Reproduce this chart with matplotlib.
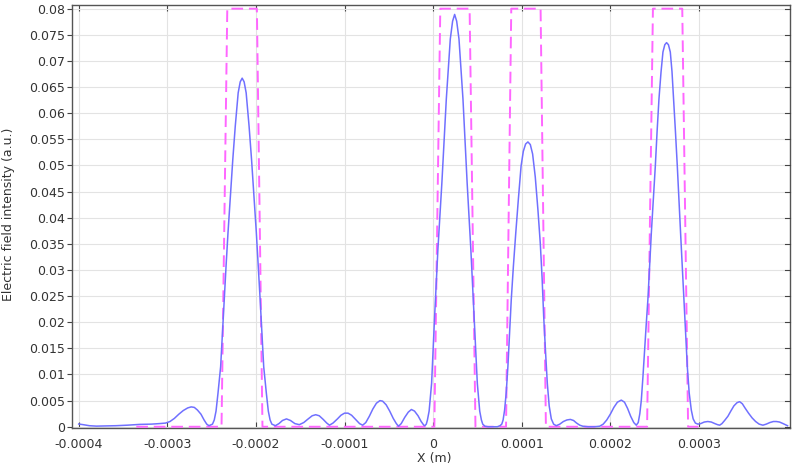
import numpy as np
import matplotlib
matplotlib.use("Agg")
import matplotlib.pyplot as plt

# Electric field intensity (blue): (x in micrometres, intensity in a.u.)
field_points = [
    (-400, 0.00052), (-395, 0.0004), (-388, 0.0002), (-380, 0.00012), (-370, 0.00015), (-358, 0.0002),
    (-345, 0.0003), (-331, 0.00045), (-318, 0.0005), (-309, 0.0006), (-302, 0.0007), (-297, 0.0010),
    (-292, 0.0016), (-287, 0.0024), (-282, 0.0031), (-277, 0.0036), (-273, 0.0038), (-269.5, 0.0037),
    (-266, 0.0032), (-262, 0.0024), (-258.5, 0.0013), (-255.5, 0.0005), (-253, 0.0002),
    # peak 1
    (-249, 0.0005), (-247, 0.0013), (-245, 0.0030), (-242.8, 0.0064), (-239.8, 0.0115),
    (-237.8, 0.0179), (-235.8, 0.0243), (-233.7, 0.0307), (-231.5, 0.0371), (-229.0, 0.0435),
    (-226.1, 0.0511), (-223.3, 0.0575), (-220.0, 0.0639), (-217.7, 0.0660), (-215.5, 0.0667),
    (-213.3, 0.0660), (-211.0, 0.0639), (-207.7, 0.0575), (-204.9, 0.0511), (-202.0, 0.0435),
    (-199.5, 0.0371), (-197.3, 0.0307), (-195.2, 0.0243), (-193.2, 0.0179), (-191.2, 0.0115),
    (-188.2, 0.0064), (-186, 0.0030), (-184, 0.0013), (-182, 0.0005), (-178, 0.0002),
    # side lobes
    (-174, 0.0006), (-170, 0.0012), (-165.5, 0.0015), (-161, 0.0012), (-156, 0.0006), (-151, 0.0004),
    (-146, 0.0008), (-141, 0.0015), (-136.5, 0.0021), (-132.5, 0.0023), (-128.5, 0.0021),
    (-124, 0.0014), (-120, 0.0007), (-117, 0.0003), (-113, 0.0007), (-108, 0.0015), (-104, 0.0022),
    (-100, 0.0026), (-96, 0.0026), (-92, 0.0022), (-87, 0.0013), (-83, 0.0006), (-79.5, 0.0003),
    (-76, 0.0008), (-72, 0.0020), (-68, 0.0034), (-64, 0.0045), (-60, 0.0050), (-57, 0.0049),
    (-53, 0.0042), (-49, 0.0030), (-45, 0.0016), (-41.5, 0.0006), (-39, 0.0001), (-36, 0.0006),
    (-32, 0.0018), (-28, 0.0028), (-24.5, 0.0033), (-21, 0.0030), (-17, 0.0021), (-13.5, 0.0010),
    (-10.5, 0.0003), (-9.3, 0.0002),
    # peak 2
    (-7.7, 0.0005), (-6.4, 0.0013), (-4.5, 0.0030), (-1.7, 0.0083), (1.7, 0.0211), (5.4, 0.0339),
    (9.9, 0.0467), (14.9, 0.0627), (19.4, 0.0742), (22.0, 0.0776), (24.3, 0.0789), (26.6, 0.0776),
    (29.2, 0.0742), (33.7, 0.0627), (38.4, 0.0467), (42.6, 0.0339), (46.3, 0.0211), (49.9, 0.0083),
    (52.6, 0.0030), (54.5, 0.0013), (56, 0.0005), (58.5, 0.0001), (62, 0.0), (67.5, 0.0),
    (72.5, 0.0), (75.5, 0.0002),
    # peak 3
    (77.5, 0.0005), (79, 0.0013), (80.7, 0.0032), (82.5, 0.0065), (84.4, 0.0115), (86.2, 0.0175),
    (88.2, 0.0243), (90.6, 0.0307), (93.3, 0.0371), (96.2, 0.0435), (99.3, 0.0499), (101.8, 0.0527),
    (104.4, 0.0541), (107, 0.0545), (109.7, 0.0540), (112.3, 0.0522), (115.3, 0.0478), (118.3, 0.0415),
    (121, 0.0350), (123, 0.0285), (124.8, 0.0211), (127, 0.0140), (128.9, 0.0083), (131, 0.0040),
    (133.4, 0.0015), (136, 0.0005), (139, 0.0002),
    # side lobes
    (143, 0.0005), (147, 0.0010), (151, 0.0013), (154.9, 0.0014), (158.5, 0.0012), (162, 0.0007),
    (165.5, 0.0003), (169, 0.0001), (175, 0.0), (182, 0.0), (188, 0.0001), (192, 0.0005),
    (196, 0.0013), (200, 0.0024), (204, 0.0037), (208, 0.0047), (212.4, 0.0051), (216, 0.0047),
    (219.5, 0.0035), (223, 0.0020), (226.5, 0.0008), (229.3, 0.0003),
    # peak 4
    (231.5, 0.0008), (233.3, 0.0025), (235, 0.0051), (236.8, 0.0095), (238.7, 0.0147),
    (240.5, 0.0195), (242.4, 0.0243), (244.3, 0.0305), (246.3, 0.0371), (248.5, 0.0435),
    (250.8, 0.0499), (252.8, 0.0565), (254.9, 0.0627), (257.2, 0.0678), (259.4, 0.0717),
    (261.5, 0.0731), (263.5, 0.0735), (265.6, 0.0731), (267.7, 0.0717), (269.6, 0.0680),
    (271.4, 0.0627), (273.5, 0.0565), (275.6, 0.0499), (277.5, 0.0435), (279.3, 0.0371),
    (281.2, 0.0305), (283.1, 0.0243), (285, 0.0180), (286.9, 0.0115), (289, 0.0065),
    (291.4, 0.0032), (293.5, 0.0015), (296, 0.0007), (298.9, 0.0005),
    # tail
    (302, 0.0006), (306, 0.0009), (310, 0.0010), (314, 0.0009), (318, 0.0006), (321, 0.0004),
    (323.4, 0.0003), (326, 0.0006), (329, 0.0012), (332.7, 0.0020), (336, 0.0030), (339.5, 0.0040),
    (343, 0.0046), (345.9, 0.0048), (349, 0.0044), (352, 0.0036), (356, 0.0026), (360, 0.0017),
    (364, 0.0010), (368, 0.0005), (372.2, 0.0003), (376, 0.0005), (380, 0.0008), (384, 0.0010),
    (387.4, 0.0010), (391, 0.0009), (395, 0.0006), (400, 0.0002),
]

# Refractive-index profile (magenta dashed), x in micrometres
profile_x_um = [-335, -238.8, -232.3, -198.9, -192.6, 1.4, 8.1, 41.2, 47.8, 82.3, 88.2, 121.3, 127.3,
                241.5, 248.1, 281.2, 287.8, 303]
profile_y = [0, 0, 0.08, 0.08, 0, 0, 0.08, 0.08, 0, 0, 0.08, 0.08, 0, 0, 0.08, 0.08, 0, 0]

x_ticks = [-0.0004, -0.0003, -0.0002, -0.0001, 0, 0.0001, 0.0002, 0.0003]
x_tick_labels = ["-0.0004", "-0.0003", "-0.0002", "-0.0001", "0", "0.0001", "0.0002", "0.0003"]
y_ticks = [0, 0.005, 0.01, 0.015, 0.02, 0.025, 0.03, 0.035, 0.04, 0.045, 0.05, 0.055, 0.06, 0.065,
           0.07, 0.075, 0.08]
y_tick_labels = ["0", "0.005", "0.01", "0.015", "0.02", "0.025", "0.03", "0.035", "0.04", "0.045",
                 "0.05", "0.055", "0.06", "0.065", "0.07", "0.075", "0.08"]

field_x_um = [p[0] for p in field_points]
field_y = [p[1] for p in field_points]

plt.rcParams['font.family'] = ['DejaVu Sans']
fig = plt.figure(figsize=(8.0, 4.68), dpi=100)
ax = fig.add_axes([0.0904, 0.0848, 0.8971, 0.9045])

ax.plot(np.array(profile_x_um) * 1e-6, profile_y, color='#ff66ff', lw=1.4,
        dashes=(6, 3), solid_joinstyle='round', dash_joinstyle='round', zorder=3)
ax.plot(np.array(field_x_um) * 1e-6, field_y, color='#7070ff', lw=1.1, zorder=4,
        solid_joinstyle='round')

ax.set_xlim(-4.072e-4, 4.028e-4)
ax.set_ylim(-0.0003, 0.0807)
ax.set_xticks(x_ticks)
ax.set_xticklabels(x_tick_labels)
ax.set_yticks(y_ticks)
ax.set_yticklabels(y_tick_labels)
ax.grid(True, color='#e3e3e3', lw=0.8)
ax.set_axisbelow(True)

for s in ax.spines.values():
    s.set_color('#555555')
    s.set_linewidth(1.0)

ax.tick_params(axis='x', which='both', direction='in', top=True, bottom=True, length=4,
               color='#444444', labelsize=9, labelcolor='#333333', pad=7)
ax.tick_params(axis='y', which='both', direction='out', left=True, right=False, length=3.5,
               color='#444444', labelsize=9, labelcolor='#333333', pad=1.5)
for y in y_ticks:
    ax.plot([1.0, 0.993], [y, y], transform=ax.get_yaxis_transform(), color='#444444', lw=0.8,
            clip_on=False, zorder=5)

ax.set_xlabel("X (m)", fontsize=9, color='#333333')
ax.set_ylabel("Electric field intensity (a.u.)", fontsize=9, color='#333333')
ax.xaxis.set_label_coords(0.504, -0.071)
ax.yaxis.set_label_coords(-0.0896, 0.506)
ax.xaxis.label.set_va('center')
ax.yaxis.label.set_va('center')

fig.savefig("out.png", dpi=100)
